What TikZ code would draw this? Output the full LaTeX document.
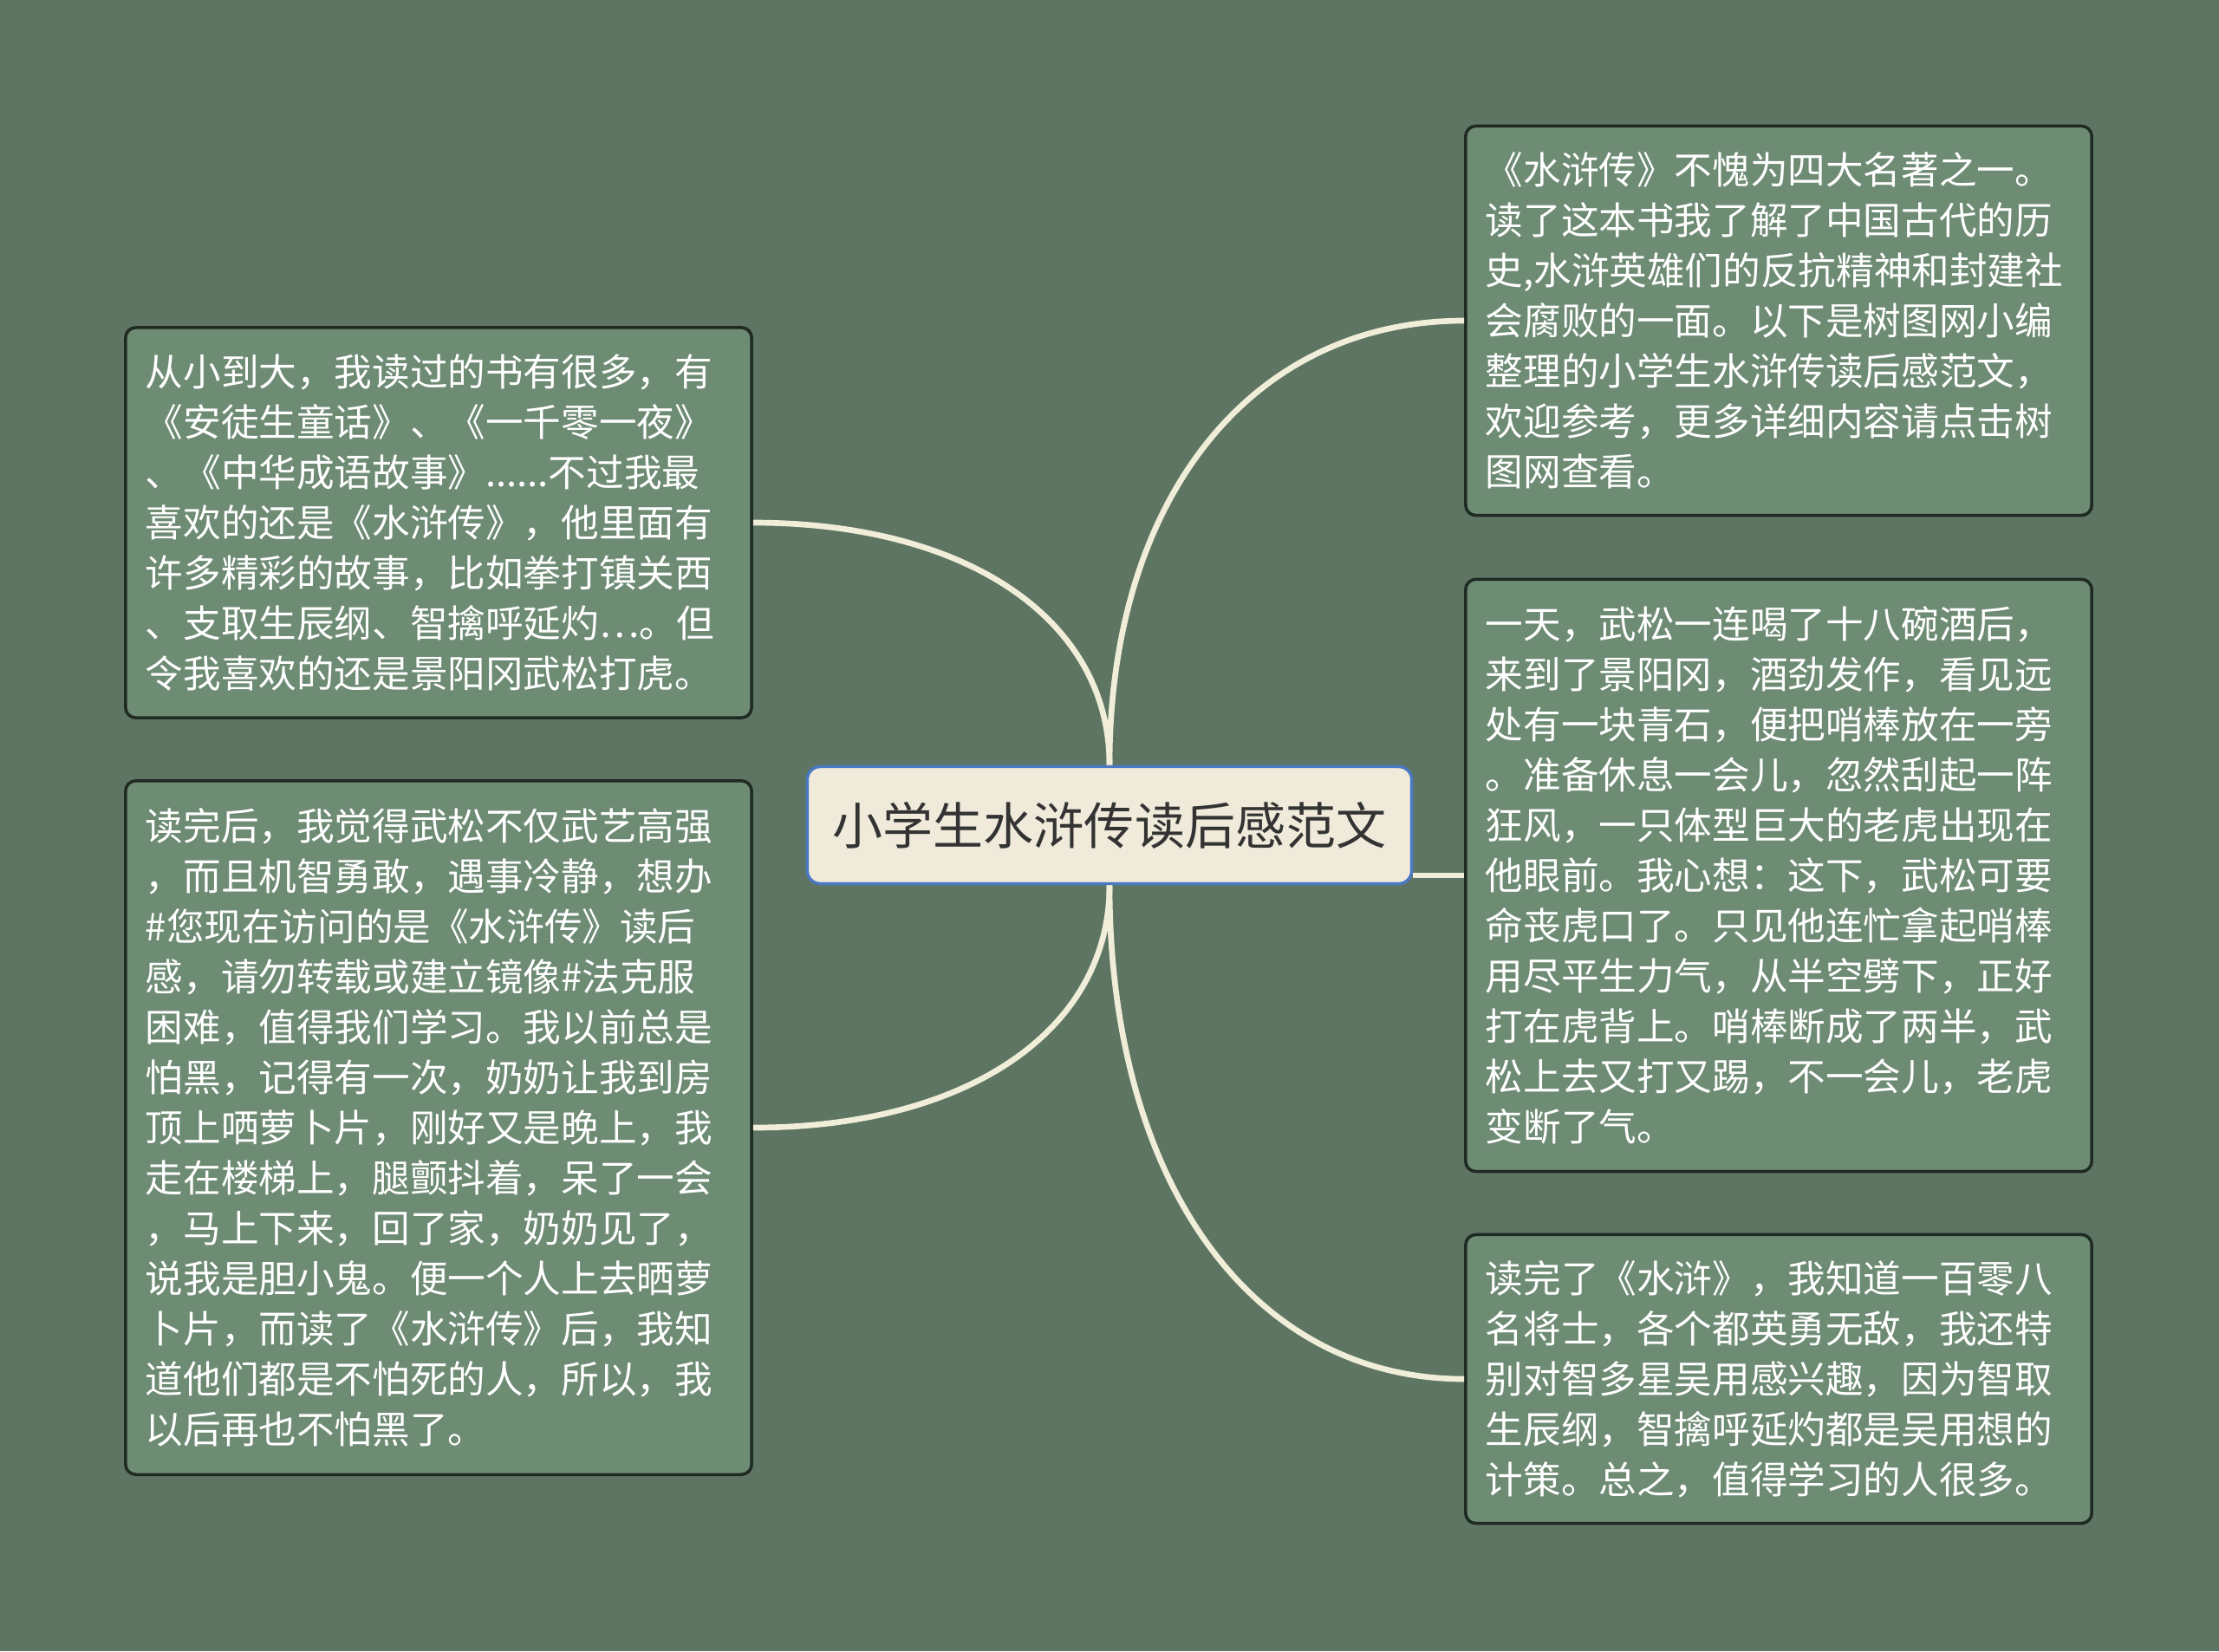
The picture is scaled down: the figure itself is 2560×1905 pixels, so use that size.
\documentclass[tikz,border=0pt]{standalone}
\usepackage{fontspec}
\setmainfont{Noto Sans CJK SC}
\usepackage{xcolor}
\usetikzlibrary{calc}
\definecolor{bgGreen}{HTML}{5E7563}
\definecolor{boxGreen}{HTML}{6E8B74}
\definecolor{boxEdge}{HTML}{1E2A22}
\definecolor{linkCream}{HTML}{F0EDD8}
\definecolor{rootFill}{HTML}{EFEADA}
\definecolor{rootEdge}{HTML}{4A78C2}
\definecolor{rootText}{HTML}{333333}

\begin{document}
\begin{tikzpicture}[x=0.01cm,y=-0.01cm,
  leaf/.style={draw=boxEdge, line width=1pt, fill=boxGreen, rounded corners=0.12cm,
    text=white, font=\fontsize{12.4pt}{16.5pt}\selectfont, align=left,
    minimum width=7.22cm, text width=6.76cm, inner sep=0pt},
  root/.style={draw=rootEdge, line width=1pt, fill=rootFill, rounded corners=0.15cm,
    text=rootText, font=\fontsize{16.5pt}{20pt}\selectfont,
    minimum width=6.97cm, minimum height=1.35cm, inner sep=0pt},
  link/.style={draw=linkCream, line width=1.9pt}]

\fill [bgGreen] (0,0) rectangle (2560,1905);

% centre
\node [root] (root) at (1280,952) {小学生水浒传读后感范文};

% left side
\node [leaf, minimum height=4.50cm] (lt) at (506,603) {从小到大，我读过的书有很多，有\\《安徒生童话》、《一千零一夜》\\、《中华成语故事》......不过我最\\喜欢的还是《水浒传》，他里面有\\许多精彩的故事，比如拳打镇关西\\、支取生辰纲、智擒呼延灼…。但\\令我喜欢的还是景阳冈武松打虎。};
\node [leaf, minimum height=8.00cm] (lb) at (506,1301) {读完后，我觉得武松不仅武艺高强\\，而且机智勇敢，遇事冷静，想办\\\#您现在访问的是《水浒传》读后\\感，请勿转载或建立镜像\#法克服\\困难，值得我们学习。我以前总是\\怕黑，记得有一次，奶奶让我到房\\顶上哂萝卜片，刚好又是晚上，我\\走在楼梯上，腿颤抖着，呆了一会\\，马上下来，回了家，奶奶见了，\\说我是胆小鬼。便一个人上去晒萝\\卜片，而读了《水浒传》后，我知\\道他们都是不怕死的人，所以，我\\以后再也不怕黑了。};

% right side
\node [leaf, minimum height=4.49cm] (rt) at (2052,370) {《水浒传》不愧为四大名著之一。\\读了这本书我了解了中国古代的历\\史,水浒英雄们的反抗精神和封建社\\会腐败的一面。以下是树图网小编\\整理的小学生水浒传读后感范文，\\欢迎参考，更多详细内容请点击树\\图网查看。};
\node [leaf, minimum height=6.83cm] (rm) at (2052,1010) {一天，武松一连喝了十八碗酒后，\\来到了景阳冈，酒劲发作，看见远\\处有一块青石，便把哨棒放在一旁\\。准备休息一会儿，忽然刮起一阵\\狂风，一只体型巨大的老虎出现在\\他眼前。我心想：这下，武松可要\\命丧虎口了。只见他连忙拿起哨棒\\用尽平生力气，从半空劈下，正好\\打在虎背上。哨棒断成了两半，武\\松上去又打又踢，不一会儿，老虎\\变断了气。};
\node [leaf, minimum height=3.33cm] (rb) at (2052,1591) {读完了《水浒》，我知道一百零八\\名将士，各个都英勇无敌，我还特\\别对智多星吴用感兴趣，因为智取\\生辰纲，智擒呼延灼都是吴用想的\\计策。总之，值得学习的人很多。};

% connectors
\draw [link] (root.north) .. controls ($(root.north)!0.6!(root.north |- lt.east)$) and ($(lt.east)!0.6!(root.north |- lt.east)$) .. (lt.east);
\draw [link] (root.north) .. controls ($(root.north)!0.6!(root.north |- rt.west)$) and ($(rt.west)!0.6!(root.north |- rt.west)$) .. (rt.west);
\draw [link] (root.south) .. controls ($(root.south)!0.6!(root.south |- lb.east)$) and ($(lb.east)!0.6!(root.south |- lb.east)$) .. (lb.east);
\draw [link] (root.south) .. controls ($(root.south)!0.6!(root.south |- rb.west)$) and ($(rb.west)!0.6!(root.south |- rb.west)$) .. (rb.west);
\draw [link] (root.east |- rm.west) -- (rm.west);

\end{tikzpicture}
\end{document}
